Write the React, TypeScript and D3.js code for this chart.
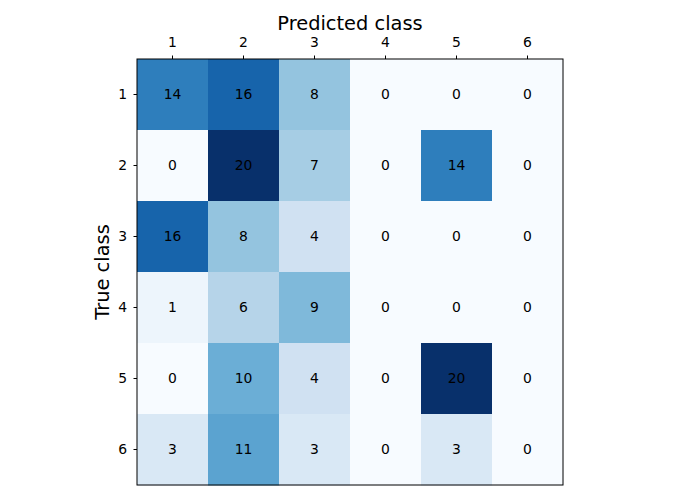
import React from 'react';
import * as d3 from 'd3';

const classes = ['1', '2', '3', '4', '5', '6'];
const matrix: number[][] = [
  [14, 16, 8, 0, 0, 0],
  [0, 20, 7, 0, 14, 0],
  [16, 8, 4, 0, 0, 0],
  [1, 6, 9, 0, 0, 0],
  [0, 10, 4, 0, 20, 0],
  [3, 11, 3, 0, 3, 0],
];
const xLabel = 'Predicted class';
const yLabel = 'True class';

const width = 700;
const height = 500;
const margin = { top: 59, left: 137, size: 426 };
const font = 'DejaVu Sans, sans-serif';

const App: React.FC = () => {
  const x = d3.scaleBand().domain(classes).range([margin.left, margin.left + margin.size]);
  const y = d3.scaleBand().domain(classes).range([margin.top, margin.top + margin.size]);
  const maxVal = d3.max(matrix.flat()) || 1;
  // matplotlib Blues is a linear ramp over the 9 ColorBrewer stops
  const blues = d3.piecewise(d3.interpolateRgb, d3.schemeBlues[9] as string[]);
  const color = d3.scaleSequential(blues).domain([0, maxVal]);

  const cells = matrix.flatMap((row, i) =>
    row.map((v, j) => ({ row: classes[i], col: classes[j], v }))
  );

  return (
    <svg width={width} height={height} style={{ position: 'absolute', left: 0, top: 0 }}>
      <rect width={width} height={height} fill="#fff" />
      {cells.map(c => (
        <rect
          key={`${c.row}-${c.col}`}
          x={x(c.col)}
          y={y(c.row)}
          width={x.bandwidth() + 0.5}
          height={y.bandwidth() + 0.5}
          fill={color(c.v)}
        />
      ))}
      {cells.map(c => (
        <text
          key={`t${c.row}-${c.col}`}
          x={(x(c.col) || 0) + x.bandwidth() / 2}
          y={(y(c.row) || 0) + y.bandwidth() / 2}
          dy="0.35em"
          textAnchor="middle"
          fontFamily={font}
          fontSize={13.9}
          fill="#000"
        >
          {c.v}
        </text>
      ))}
      <rect
        x={margin.left}
        y={margin.top}
        width={margin.size}
        height={margin.size}
        fill="none"
        stroke="#000"
        strokeWidth={1}
      />
      {classes.map(c => {
        const cx = (x(c) || 0) + x.bandwidth() / 2;
        return (
          <g key={`xt${c}`}>
            <line x1={cx} x2={cx} y1={margin.top} y2={margin.top - 3.5} stroke="#000" />
            <text x={cx} y={margin.top - 12} textAnchor="middle" fontFamily={font} fontSize={13.9}>
              {c}
            </text>
          </g>
        );
      })}
      {classes.map(c => {
        const cy = (y(c) || 0) + y.bandwidth() / 2;
        return (
          <g key={`yt${c}`}>
            <line x1={margin.left} x2={margin.left - 3.5} y1={cy} y2={cy} stroke="#000" />
            <text x={margin.left - 10} y={cy} dy="0.35em" textAnchor="end" fontFamily={font} fontSize={13.9}>
              {c}
            </text>
          </g>
        );
      })}
      <text
        x={margin.left + margin.size / 2}
        y={30}
        textAnchor="middle"
        fontFamily={font}
        fontSize={19.4}
      >
        {xLabel}
      </text>
      <text
        transform={`translate(109,${margin.top + margin.size / 2}) rotate(-90)`}
        textAnchor="middle"
        fontFamily={font}
        fontSize={19.4}
      >
        {yLabel}
      </text>
    </svg>
  );
};

export default App;
